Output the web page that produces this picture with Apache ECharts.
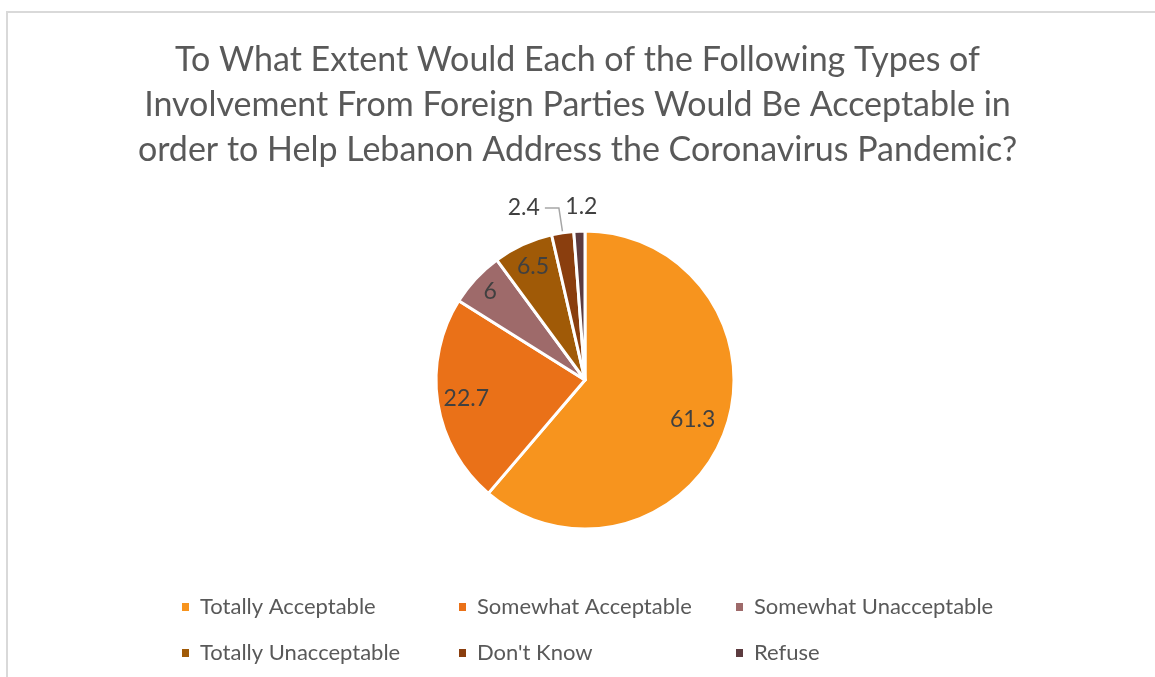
<!DOCTYPE html>
<html><head><meta charset="utf-8">
<script src="https://cdn.jsdelivr.net/npm/echarts@6/dist/echarts.min.js"></script>
<style>html,body{margin:0;padding:0;background:#fff}#c{width:1155px;height:677px}</style>
</head><body><div id="c"></div>
<script>
const titleLines = ["To What Extent Would Each of the Following Types of", "Involvement From Foreign Parties Would Be Acceptable in", "order to Help Lebanon Address the Coronavirus Pandemic?"];
const categories = ["Totally Acceptable", "Somewhat Acceptable", "Somewhat Unacceptable", "Totally Unacceptable", "Don't Know", "Refuse"];
const values = [61.3, 22.7, 6, 6.5, 2.4, 1.2];
const colors = ["#F7941E", "#EA7118", "#9E6A6A", "#A05A07", "#8A3E0E", "#5C3B3F"];

const CX = 585, CY = 380, R = 149;
const innerScale = [1.48, 1.55, 1.67, 1.61];
const font = "Lato, 'Open Sans', sans-serif";

const data = categories.map((n, i) => {
  const d = {name: n, value: values[i], itemStyle: {color: colors[i]}};
  if (i < 4) {
    d.label = {position: 'inside'};
    d.labelLine = {show: false};
  } else if (i === 4) {
    d.label = {position: 'outside'};
    d.labelLine = {show: true, length: 25, length2: 14, lineStyle: {color: '#a6a6a6', width: 1.5}};
  } else {
    d.label = {position: 'outside'};
    d.labelLine = {show: false, length: 25, length2: 14};
  }
  return d;
});

const chart = echarts.init(document.getElementById('c'));
chart.setOption({
  animation: false,
  graphic: [{type: 'rect', shape: {x: 7, y: 12, width: 1160, height: 700}, style: {fill: 'none', stroke: '#d9d9d9', lineWidth: 2}, silent: true}],
  title: {
    text: titleLines.join('\n'), left: 'center', top: 33,
    textStyle: {fontFamily: font, fontSize: 34, fontWeight: 'normal', color: '#595959', lineHeight: 45}
  },
  legend: {
    data: categories, left: 175, top: 586, width: 900, orient: 'horizontal',
    itemWidth: 9, itemHeight: 10, itemGap: 14, icon: 'rect',
    textStyle: {fontFamily: font, fontSize: 22, color: '#595959', width: 243, lineHeight: 32, padding: [0, 0, 0, 5]}
  },
  series: [{
    type: 'pie', center: [CX, CY], radius: R, startAngle: 90, clockwise: true,
    avoidLabelOverlap: false,
    itemStyle: {borderColor: '#fff', borderWidth: 3},
    label: {fontFamily: font, fontSize: 23, color: '#404040', formatter: p => String(p.value)},
    labelLayout: function (p) {
      const r = p.labelRect;
      const lx = r.x + r.width / 2, ly = r.y + r.height / 2;
      if (p.dataIndex < 4) {
        const k = innerScale[p.dataIndex];
        return {x: CX + (lx - CX) * k, y: CY + (ly - CY) * k, align: 'center', verticalAlign: 'middle'};
      }
      if (p.dataIndex === 5) {
        return {x: lx + 38, y: ly, align: 'center', verticalAlign: 'middle'};
      }
      return {};
    },
    data: data
  }]
});
</script></body></html>
